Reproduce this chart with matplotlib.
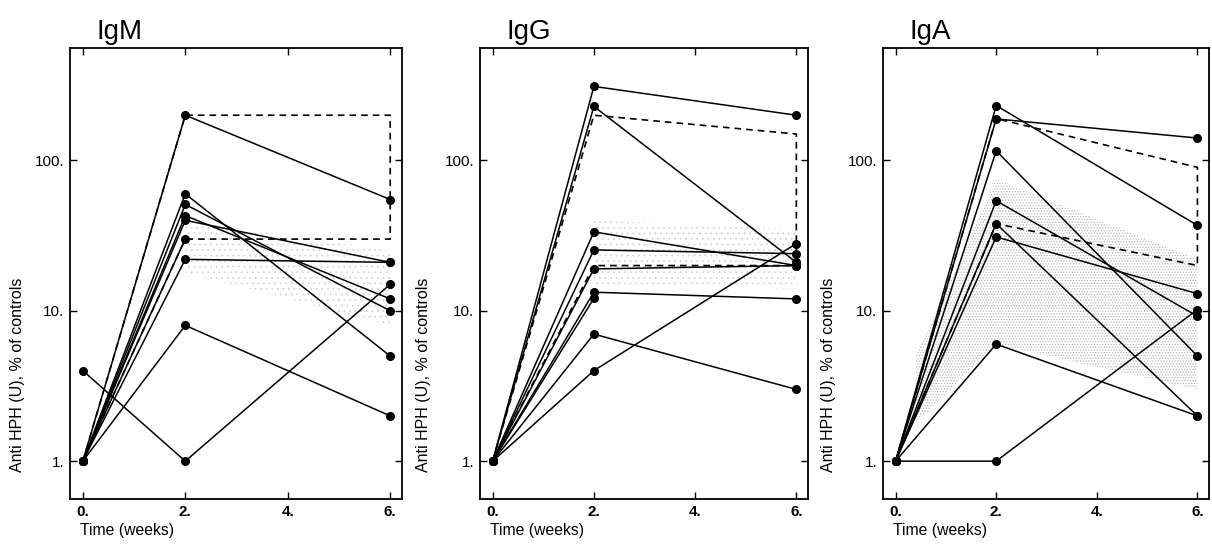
import numpy as np
import matplotlib
matplotlib.use('Agg')
import matplotlib.pyplot as plt
from matplotlib.ticker import FixedLocator, NullLocator

plt.rcParams['font.family'] = ['Liberation Sans', 'DejaVu Sans']
plt.rcParams['hatch.linewidth'] = 0.6

nan = np.nan
weeks = [0, 2, 6]

# individual patients, values at 0, 2 and 6 weeks
igm = [[4, 1, 15], [1, 8, 2], [1, 200, 55], [1, 60, 5], [1, 51, 10],
       [1, 43, 12], [1, 40, 21], [1, 30, nan], [1, 22, 21]]
igg = [[1, 311, 200], [1, 229, 21], [1, 33.5, 20], [1, 25.4, 24], [1, 19, 20],
       [1, 13.3, 12], [1, 12.1, nan], [1, 7, 3], [1, 4, 28]]
iga = [[1, 232, 37], [1, 189, 141], [1, 116, 5], [1, 54, 9.2], [1, 38, 2],
       [1, 31, 13], [1, 6, 2], [1, 1, 10.2]]

# dashed envelope (0 -> upper 2 -> upper 6 -> lower 6 -> lower 2 -> 0)
env_t = [0, 2, 6, 6, 2, 0]
igm_env = [1, 200, 200, 30, 30, 1]
igg_env = [1, 200, 150, 20, 20, 1]
iga_env = [1, 190, 90, 20, 38, 1]

# stippled reference range
igm_shade_t = [2, 6, 6, 2]
igm_shade = [40, 25, 8, 18]
igg_shade_t = [2, 6, 6, 2]
igg_shade = [40, 35, 14, 15]
iga_shade_t = [0.4, 2, 6, 6, 2, 0.4]
iga_shade = [5, 75, 22, 3, 6, 1.8]

titles = ['IgM', 'IgG', 'IgA']
x_ticks = [0, 2, 4, 6]
x_ticklabels = ['0.', '2.', '4.', '6.']
y_ticks = [1, 10, 100]
y_ticklabels = ['1.', '10.', '100.']

fig = plt.figure(figsize=(12.12, 5.49), dpi=100)
W, H = 1212., 549.
boxes = [(70, 402), (480, 808), (883, 1209)]
top, bot = 48, 499
ylab_x = [25, 431, 836]
stipple = ['...', '...', '......']
stipple_col = ['#d4d4d4', '#d4d4d4', '#b8b8b8']

panels = [(igm, igm_env, igm_shade_t, igm_shade),
          (igg, igg_env, igg_shade_t, igg_shade),
          (iga, iga_env, iga_shade_t, iga_shade)]

for i, (data, env, sh_t, sh_v) in enumerate(panels):
    l, r = boxes[i]
    ax = fig.add_axes([l / W, 1 - bot / H, (r - l) / W, (bot - top) / H])
    ax.set_yscale('log')
    ax.set_xlim(-0.25, 6.23)
    ax.set_ylim(0.56, 560)

    ax.fill(sh_t, sh_v, facecolor='none', edgecolor=stipple_col[i],
            hatch=stipple[i], lw=0, zorder=0)
    ax.plot(env_t, env, color='black', lw=1.2, ls=(0, (4, 3)), zorder=2)
    for s in data:
        ax.plot(weeks, s, color='black', lw=1.1, marker='o', ms=5.5,
                zorder=3)

    ax.xaxis.set_major_locator(FixedLocator(x_ticks))
    ax.set_xticklabels(x_ticklabels, fontweight='bold')
    ax.yaxis.set_major_locator(FixedLocator(y_ticks))
    ax.yaxis.set_minor_locator(NullLocator())
    ax.set_yticklabels(y_ticklabels)
    ax.tick_params(direction='in', length=5, width=1, top=True, right=True,
                   labelsize=11, pad=4)
    for sp in ax.spines.values():
        sp.set_linewidth(1.3)

    ax.text(0.08, 1.02, titles[i], transform=ax.transAxes, fontsize=20,
            ha='left', va='baseline')
    ax.set_ylabel('Anti HPH (U), % of controls', fontsize=11.5)
    ax.yaxis.set_label_coords((ylab_x[i] - l) / (r - l), (bot - 375) / (bot - top))
    ax.text(-0.05, -(530 - bot) / (bot - top), 'Time (weeks)',
            transform=ax.get_xaxis_transform(), fontsize=11.3,
            ha='left', va='center')

fig.savefig('out.png', dpi=100)
